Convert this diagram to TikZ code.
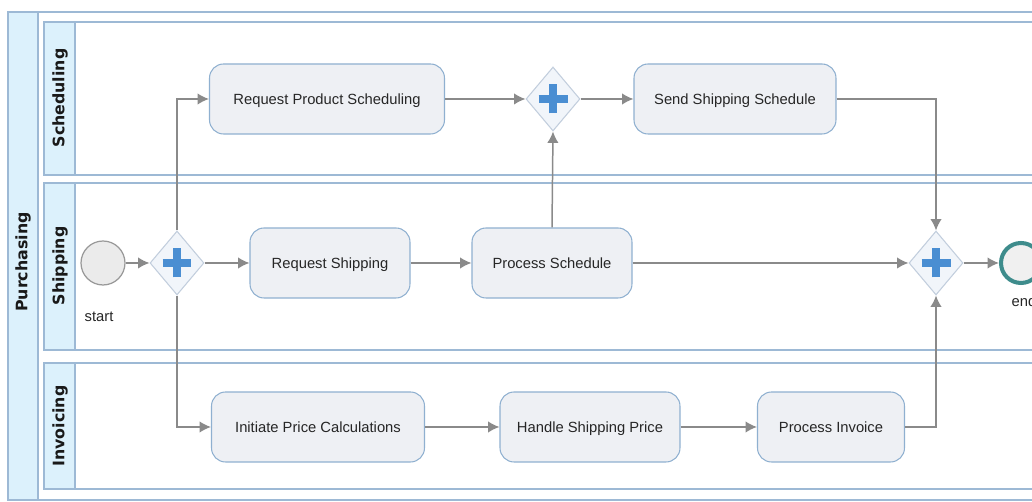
\documentclass[tikz,border=0pt]{standalone}
\usepackage{fontspec}
\setmainfont{Liberation Sans}
\newfontfamily\lanefont{DejaVu Sans}
\usetikzlibrary{arrows.meta,shapes.geometric,positioning}

\definecolor{laneline}{HTML}{9DB9D5}
\definecolor{lanefill}{HTML}{DCF1FC}
\definecolor{taskfill}{HTML}{EEF0F4}
\definecolor{taskline}{HTML}{8FB0D0}
\definecolor{gwline}{HTML}{C2CEDD}
\definecolor{gwfill}{HTML}{F1F5FA}
\definecolor{plusblue}{HTML}{4A8ED2}
\definecolor{flowgray}{HTML}{8A8A8A}
\definecolor{endteal}{HTML}{3E8C8C}

\begin{document}
\begin{tikzpicture}[x=0.02cm,y=-0.02cm,
every node/.style={font=\fontsize{8.4}{10}\selectfont, text=black!85},
pool/.style={draw=laneline, line width=0.7pt},
lanelabel/.style={rotate=90, font=\lanefont\bfseries\fontsize{9}{11}\selectfont, text=black!90},
task/.style={rectangle, rounded corners=0.28cm, draw=taskline, fill=taskfill,
  line width=0.6pt, minimum height=1.4cm, inner sep=2pt,
  text height=1.6ex, text depth=0.4ex},
gateway/.style={diamond, draw=gwline, fill=gwfill, line width=0.6pt,
  minimum width=1.08cm, minimum height=1.28cm, inner sep=0pt,
  path picture={
    \draw[plusblue, line width=4.5pt]
      ([xshift=-0.29cm]path picture bounding box.center) -- ([xshift=0.29cm]path picture bounding box.center)
      ([yshift=-0.29cm]path picture bounding box.center) -- ([yshift=0.29cm]path picture bounding box.center);}},
startevent/.style={circle, draw=black!40, fill=black!8, line width=0.7pt, minimum size=0.88cm},
endevent/.style={circle, draw=endteal, fill=black!6, line width=2.3pt, minimum size=0.8cm},
flow/.style={-{Latex[length=6.5pt,width=6.5pt]}, draw=flowgray, line width=0.85pt}]

\useasboundingbox (0,0) rectangle (1032,502);
\fill[white] (0,0) rectangle (1032,502);

% pool and lanes
\draw[pool] (8,12) rectangle (1045,500);
\draw[pool, fill=lanefill] (8,12) rectangle (38,500);
\draw[pool] (44,22) rectangle (1045,175);
\draw[pool, fill=lanefill] (44,22) rectangle (75,175);
\draw[pool] (44,183) rectangle (1045,350);
\draw[pool, fill=lanefill] (44,183) rectangle (75,350);
\draw[pool] (44,363) rectangle (1045,489);
\draw[pool, fill=lanefill] (44,363) rectangle (75,489);

\node[lanelabel] (purchasing) at (23,262) {Purchasing};
\node[lanelabel] (scheduling) at (60,98) {Scheduling};
\node[lanelabel] (shipping) at (60,266) {Shipping};
\node[lanelabel] (invoicing) at (60,426) {Invoicing};

% events and gateways
\node[startevent] (start) at (103,263) {};
\node (startlbl) at (99,317) {start};
\node[gateway] (split) at (177,263) {};
\node[gateway] (joinsched) at (553,99) {};
\node[gateway] (joinall) at (936,263) {};
\node[endevent] (end) at (1021,263) {};
\node (endlbl) at (1024,301) {end};

% tasks
\node[task, minimum width=4.7cm] (reqprod) at (327,99) {Request Product Scheduling};
\node[task, minimum width=4.04cm] (sendsched) at (735,99) {Send Shipping Schedule};
\node[task, minimum width=3.2cm] (reqship) at (330,263) {Request Shipping};
\node[task, minimum width=3.2cm] (procsched) at (552,263) {Process Schedule};
\node[task, minimum width=4.26cm] (initprice) at (318,427) {Initiate Price Calculations};
\node[task, minimum width=3.6cm] (handleprice) at (590,427) {Handle Shipping Price};
\node[task, minimum width=2.94cm] (procinv) at (831,427) {Process Invoice};

% flows
\draw[flow] (start) -- (split);
\draw[flow] (split) -- (reqship);
\draw[flow] (split.north) |- (reqprod.west);
\draw[flow] (split.south) |- (initprice.west);
\draw[flow] (reqprod) -- (joinsched);
\draw[flow] (joinsched) -- (sendsched);
\draw[flow] (reqship) -- (procsched);
\draw[flow] (procsched.north) -- (joinsched.south);
\draw[flow] (procsched) -- (joinall);
\draw[flow] (sendsched.east) -| (joinall.north);
\draw[flow] (initprice) -- (handleprice);
\draw[flow] (handleprice) -- (procinv);
\draw[flow] (procinv.east) -| (joinall.south);
\draw[flow] (joinall) -- (end);

\end{tikzpicture}
\end{document}
